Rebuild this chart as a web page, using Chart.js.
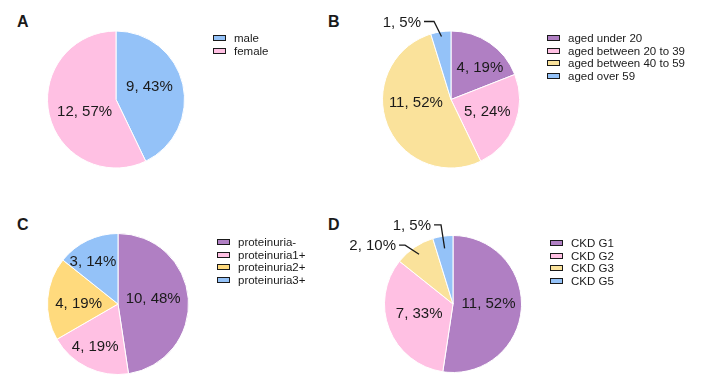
<!DOCTYPE html>
<html>
<head>
<meta charset="utf-8">
<script src="https://cdn.jsdelivr.net/npm/chart.js@4.4.0/dist/chart.umd.min.js"></script>
<style>
  body { margin: 0; background: #fff; width: 704px; height: 384px; overflow: hidden; position: relative; font-family: "Liberation Sans", Arial, sans-serif; }
  canvas { position: absolute; }
  .tag { position: absolute; font-weight: bold; font-size: 16px; color: #1a1a1a; line-height: 16px; }
  .legend { position: absolute; font-size: 11.5px; color: #1a1a1a; }
  .legend .row { display: flex; align-items: center; height: 12.6px; white-space: nowrap; }
  .legend .box { display: inline-block; width: 11px; height: 4px; border: 1.6px solid #1a1a1a; margin-right: 8px; }
</style>
</head>
<body>
<div class="tag" style="left:17px;top:14px">A</div>
<div class="tag" style="left:328px;top:14px">B</div>
<div class="tag" style="left:17px;top:217px">C</div>
<div class="tag" style="left:328px;top:217px">D</div>

<canvas id="canvasA" width="352" height="192" style="left:0;top:0"></canvas>
<canvas id="canvasB" width="372" height="192" style="left:332px;top:0"></canvas>
<canvas id="canvasC" width="352" height="192" style="left:0;top:192px"></canvas>
<canvas id="canvasD" width="372" height="192" style="left:332px;top:192px"></canvas>

<div class="legend" id="legendA" style="left:213px;top:32px"></div>
<div class="legend" id="legendB" style="left:547px;top:32px"></div>
<div class="legend" id="legendC" style="left:217px;top:236px"></div>
<div class="legend" id="legendD" style="left:550px;top:237px"></div>

<script>
// dados
const sexLabels = ['male', 'female'];
const sexCounts = [9, 12];

const ageLabels = ['aged under 20', 'aged between 20 to 39', 'aged between 40 to 59', 'aged over 59'];
const ageCounts = [4, 5, 11, 1];

const protLabels = ['proteinuria-', 'proteinuria1+', 'proteinuria2+', 'proteinuria3+'];
const protCounts = [10, 4, 4, 3];

const ckdLabels = ['CKD G1', 'CKD G2', 'CKD G3', 'CKD G5'];
const ckdCounts = [11, 7, 2, 1];

// cores
const blue = '#94C2F8';
const pink = '#FFC0E3';
const purple = '#B07FC3';
const yellow = '#FAE29B';
const yellowC = '#FFDA7D';

// rotulos das fatias
const sliceLabels = {
  id: 'sliceLabels',
  afterDatasetsDraw(chart, args, opts) {
    const ctx = chart.ctx;
    const meta = chart.getDatasetMeta(0);
    const vals = chart.data.datasets[0].data;
    const total = vals.reduce(function (a, b) { return a + b; }, 0);
    ctx.save();
    ctx.font = '15px "Liberation Sans", Arial, sans-serif';
    ctx.fillStyle = '#1a1a1a';
    ctx.strokeStyle = '#1a1a1a';
    ctx.lineWidth = 1.3;
    ctx.textBaseline = 'middle';
    meta.data.forEach(function (arc, i) {
      const p = arc.getProps(['x', 'y', 'startAngle', 'endAngle', 'outerRadius'], true);
      const mid = (p.startAngle + p.endAngle) / 2;
      const txt = vals[i] + ', ' + Math.round(vals[i] / total * 100) + '%';
      const pl = opts.place[i];
      const ax = p.x + Math.cos(mid) * p.outerRadius * pl.r;
      const ay = p.y + Math.sin(mid) * p.outerRadius * pl.r;
      if (pl.leader) {
        const ex = ax + pl.leader[0];
        const ey = ay + pl.leader[1];
        ctx.beginPath();
        ctx.moveTo(ax, ay);
        ctx.lineTo(ex, ey);
        ctx.lineTo(ex - pl.leader[2], ey);
        ctx.stroke();
        ctx.textAlign = 'right';
        ctx.fillText(txt, ex - pl.leader[2] - 3, ey + 1);
      } else {
        ctx.textAlign = 'center';
        ctx.fillText(txt, ax + (pl.dx || 0), ay + (pl.dy || 0));
      }
    });
    ctx.restore();
  }
};

function makePie(id, labels, counts, colors, padding, place, legendId) {
  const ctx = document.getElementById(id).getContext('2d');
  const chart = new Chart(ctx, {
    type: 'pie',
    data: {
      labels: labels,
      datasets: [{
        data: counts,
        backgroundColor: colors,
        borderColor: '#ffffff',
        borderWidth: 1
      }]
    },
    options: {
      responsive: false,
      animation: false,
      events: [],
      layout: { padding: padding },
      plugins: {
        legend: { display: false },
        tooltip: { enabled: false },
        sliceLabels: { place: place }
      }
    },
    plugins: [sliceLabels]
  });

  // legenda html
  const leg = document.getElementById(legendId);
  labels.forEach(function (lab, i) {
    const row = document.createElement('div');
    row.className = 'row';
    const box = document.createElement('span');
    box.className = 'box';
    box.style.background = colors[i];
    row.appendChild(box);
    row.appendChild(document.createTextNode(lab));
    leg.appendChild(row);
  });
  return chart;
}

// grafico A
makePie('canvasA', sexLabels, sexCounts, [blue, pink],
  { left: 47, right: 167, top: 30.5, bottom: 23.5 },
  [{ r: 0.5, dy: -5 }, { r: 0.47, dy: 5 }], 'legendA');

// grafico B
makePie('canvasB', ageLabels, ageCounts, [purple, pink, yellow, blue],
  { left: 50, right: 184, top: 30.5, bottom: 23.5 },
  [{ r: 0.62, dx: 5, dy: 3 }, { r: 0.57, dy: -1.5 }, { r: 0.52, dx: -2, dy: -9.5 },
   { r: 0.93, leader: [-7.5, -15, 10] }], 'legendB');

// grafico C
makePie('canvasC', protLabels, protCounts, [purple, pink, yellowC, blue],
  { left: 47, right: 163, top: 41, bottom: 9 },
  [{ r: 0.5, dy: -2.6 }, { r: 0.68, dx: -2 }, { r: 0.56, dy: 3 }, { r: 0.69, dx: -4, dy: 1.5 }], 'legendC');

// grafico D
makePie('canvasD', ckdLabels, ckdCounts, [purple, pink, yellow, blue],
  { left: 52, right: 182, top: 43, bottom: 11 },
  [{ r: 0.52, dy: -2.6 }, { r: 0.53, dy: -3 },
   { r: 0.88, leader: [-14, -9, 6] }, { r: 0.82, leader: [-3.6, -23.6, 7] }], 'legendD');
</script>
</body>
</html>
